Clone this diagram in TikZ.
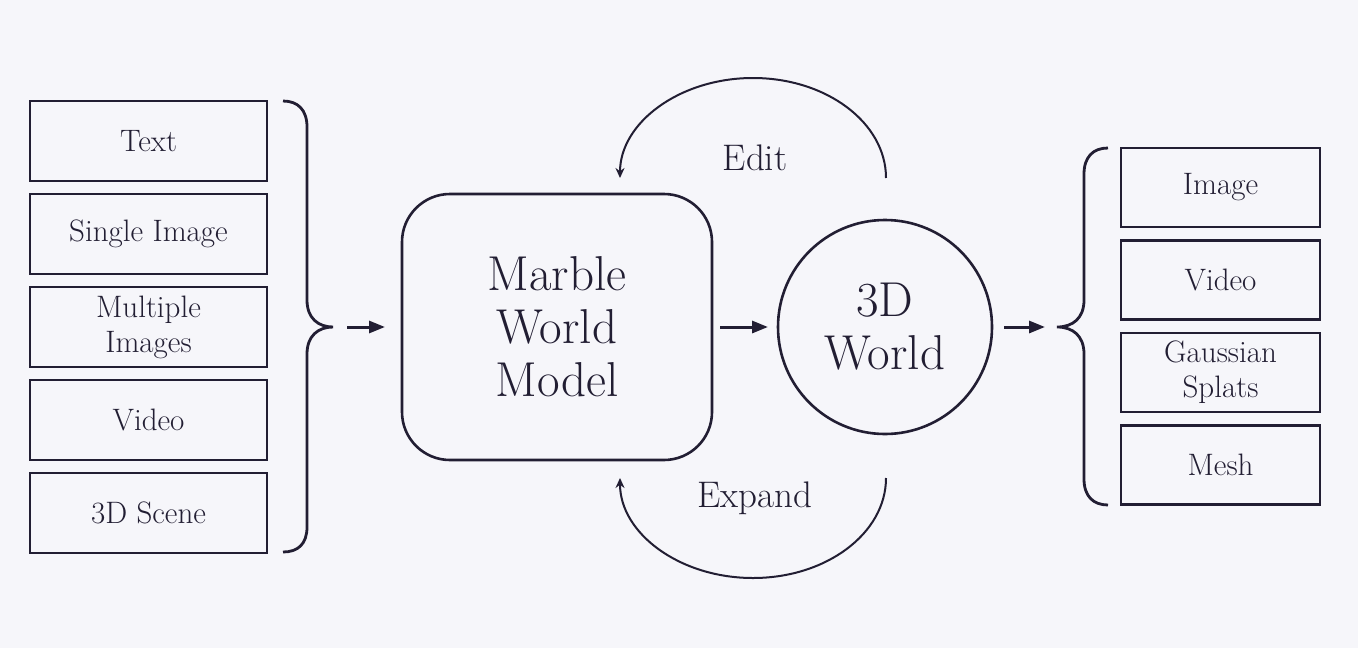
\documentclass[tikz,border=0pt]{standalone}
\usepackage{fontspec}
\usepackage{tikz}
\usetikzlibrary{positioning,arrows.meta}
\definecolor{ink}{RGB}{34,30,51}
\definecolor{paper}{RGB}{246,246,250}

\begin{document}
\begin{tikzpicture}[
    x=0.5pt, y=-0.5pt,
    inbox/.style={draw=ink, line width=1.4pt, minimum width=118.5pt, minimum height=40pt, inner sep=0pt, outer sep=0pt, align=center, text=ink, font=\fontsize{15.5}{17.5}\selectfont},
    outbox/.style={inbox, minimum width=99.5pt, minimum height=39.5pt},
    brace/.style={draw=ink, line width=1.4pt},
    arrow/.style={draw=ink, line width=1.5pt, -{Triangle[length=8pt,width=6pt]}},
    loop/.style={draw=ink, line width=1pt, -{Stealth[length=5pt,width=4.5pt]}},
    lbl/.style={text=ink, font=\fontsize{18.5}{20}\selectfont},
    node distance=6.5pt
]

% ========== BACKGROUND ==========
\fill[paper] (0,0) rectangle (1358,648);

% ========== INPUTS (LEFT) ==========
\node[inbox] (text) at (148.5,141) {Text};
\node[inbox, below=of text] (single) {Single Image};
\node[inbox, below=of single] (multi) {Multiple\\Images};
\node[inbox, below=of multi] (vidin) {Video};
\node[inbox, below=of vidin] (scene) {3D Scene};

% left brace
\coordinate (lbtip) at (333,327);
\draw[brace] (283,101) .. controls (298,101) and (307,110) .. (307,127) -- (307,300)
    .. controls (307,318) and (318,327) .. (lbtip)
    .. controls (318,327) and (307,336) .. (307,354) -- (307,527)
    .. controls (307,544) and (298,552) .. (283,552);

% ========== MODEL AND WORLD (CENTER) ==========
\node[draw=ink, line width=1.3pt, outer sep=0pt, rounded corners=24pt, minimum width=155pt, minimum height=133pt, align=center, text=ink, font=\fontsize{24.5}{26.5}\selectfont] (marble) at (557,327) {Marble\\World\\Model};
\node[draw=ink, line width=1.3pt, outer sep=0pt, circle, minimum size=107pt, inner sep=0pt, align=center, text=ink, font=\fontsize{24.5}{26.5}\selectfont] (world) at (885,327) {3D\\World};

\draw[arrow] ([xshift=7pt]lbtip) -- ([xshift=-8.5pt]marble.west);
\draw[arrow] ([xshift=4pt]marble.east) -- ([xshift=-5pt]world.west);

% Edit / Expand loops
\coordinate (editstart) at (886,178);
\coordinate (expstart) at (886,478);
\draw[loop] (editstart) arc[start angle=0, end angle=180, x radius=66.5pt, y radius=50pt];
\draw[loop] (expstart) arc[start angle=0, end angle=-180, x radius=66.5pt, y radius=50pt];
\node[lbl] (edit) at (755,158) {Edit};
\node[lbl] (expand) at (755,498) {Expand};

% ========== OUTPUTS (RIGHT) ==========
\coordinate (rbtip) at (1057,327);
\draw[arrow] ([xshift=6pt]world.east) -- ([xshift=-6pt]rbtip);

% right brace
\draw[brace] (1108,148) .. controls (1093,148) and (1084,157) .. (1084,174) -- (1084,300)
    .. controls (1084,318) and (1073,327) .. (rbtip)
    .. controls (1073,327) and (1084,336) .. (1084,354) -- (1084,479)
    .. controls (1084,496) and (1093,505) .. (1108,505);

\node[outbox] (image) at (1220.5,187.5) {Image};
\node[outbox, below=6.75pt of image] (vidout) {Video};
\node[outbox, below=6.75pt of vidout] (splats) {Gaussian\\Splats};
\node[outbox, below=6.75pt of splats] (mesh) {Mesh};

\end{tikzpicture}
\end{document}
